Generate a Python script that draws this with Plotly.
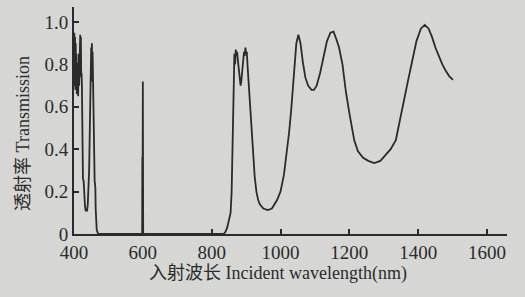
import plotly.graph_objects as go

# Wavelength (nm) and transmission
wavelength = [
    400, 401, 402, 403, 404, 405, 406, 407, 408, 409, 410, 411, 412, 413, 414, 415,
    416, 417, 418, 419, 420, 421, 422, 423, 424, 425, 426, 428, 430, 432, 434, 436,
    438, 440, 442, 443, 444, 446, 447, 448, 449, 450, 451, 452, 453, 454, 455, 456,
    457, 458, 459, 460, 462, 463, 464, 466, 468, 470,
    597, 598, 598.5, 599.5, 600, 600.5, 601,
    835, 840, 845, 850, 855, 858, 860, 862, 864, 866, 868, 870, 872, 874, 876, 878,
    880, 882, 884, 886, 888, 890, 892, 894, 896, 898, 900, 902, 904, 906, 908, 910,
    912, 915, 920, 925, 930, 935, 940, 950, 963, 975, 990, 1000, 1010, 1016, 1025,
    1031, 1036, 1041, 1046, 1052, 1058, 1065, 1072, 1080, 1090, 1097, 1105, 1115,
    1125, 1135, 1145, 1154, 1162, 1170, 1180, 1190, 1200, 1214, 1225, 1240, 1255,
    1272, 1290, 1305, 1320, 1335, 1354, 1370, 1383, 1395, 1408, 1419, 1430, 1440,
    1450, 1460, 1470, 1480, 1490, 1501,
]
transmission = [
    0.78, 0.95, 0.70, 0.93, 0.68, 0.90, 0.75, 0.85, 0.66, 0.80, 0.70, 0.78, 0.65, 0.72, 0.85, 0.70,
    0.92, 0.72, 0.94, 0.80, 0.93, 0.74, 0.76, 0.70, 0.50, 0.30, 0.26, 0.25, 0.16, 0.13, 0.11, 0.11,
    0.11, 0.14, 0.22, 0.28, 0.30, 0.50, 0.62, 0.64, 0.75, 0.88, 0.72, 0.90, 0.75, 0.86, 0.70, 0.72,
    0.55, 0.45, 0.35, 0.25, 0.22, 0.12, 0.05, 0.02, 0.01, 0.0,
    0.0, 0.0, 0.36, 0.36, 0.72, 0.30, 0.0,
    0.0, 0.01, 0.03, 0.06, 0.10, 0.20, 0.40, 0.65, 0.82, 0.85, 0.80, 0.87, 0.84, 0.86, 0.82, 0.78,
    0.74, 0.71, 0.70, 0.72, 0.76, 0.80, 0.84, 0.86, 0.84, 0.88, 0.85, 0.86, 0.80, 0.75, 0.68, 0.62,
    0.585, 0.47, 0.35, 0.27, 0.20, 0.16, 0.14, 0.12, 0.113, 0.12, 0.16, 0.20, 0.28, 0.35, 0.48,
    0.585, 0.70, 0.82, 0.90, 0.94, 0.90, 0.81, 0.74, 0.70, 0.68, 0.68, 0.70, 0.76,
    0.84, 0.91, 0.95, 0.955, 0.92, 0.88, 0.80, 0.67, 0.57, 0.443, 0.39, 0.36, 0.345,
    0.335, 0.345, 0.37, 0.40, 0.443, 0.585, 0.72, 0.82, 0.91, 0.97, 0.986, 0.97, 0.93,
    0.88, 0.84, 0.80, 0.77, 0.745, 0.727,
]

x_ticks = [400, 600, 800, 1000, 1200, 1400, 1600]
y_ticks = [0, 0.2, 0.4, 0.6, 0.8, 1.0]
y_tick_labels = ["0", "0.2", "0.4", "0.6", "0.8", "1.0"]
x_title = "入射波长 Incident wavelength(nm)"
y_title = "透射率 Transmission"

bg = "rgb(214,214,212)"
ink = "#2b2b2b"
font_fam = "Liberation Serif, Noto Sans CJK SC, serif"

fig = go.Figure()
fig.add_trace(go.Scatter(
    x=wavelength, y=transmission, mode="lines",
    line=dict(color=ink, width=1.8), showlegend=False,
))

fig.update_layout(
    width=525, height=297,
    margin=dict(l=74, r=18, t=7, b=63, autoexpand=False),
    paper_bgcolor=bg, plot_bgcolor=bg,
    font=dict(family=font_fam, color=ink, size=19),
    xaxis=dict(
        range=[400, 1658], tickvals=x_ticks, ticks="inside", ticklen=5,
        tickwidth=1.5, tickcolor=ink, showline=True, linecolor=ink, linewidth=2,
        showgrid=False, zeroline=False, automargin=False,
        tickfont=dict(family=font_fam, size=19, color=ink),
    ),
    yaxis=dict(
        range=[0, 1.071], tickvals=y_ticks, ticktext=y_tick_labels, ticks="inside",
        ticklen=5, tickwidth=1.5, tickcolor=ink, showline=True, linecolor=ink,
        linewidth=2, showgrid=False, zeroline=False, automargin=False,
        tickfont=dict(family=font_fam, size=19, color=ink),
    ),
    annotations=[
        dict(text=x_title, xref="paper", yref="paper", x=0.472, y=0, yshift=-39,
             xanchor="center", yanchor="middle", showarrow=False,
             font=dict(family=font_fam, size=18, color=ink)),
        dict(text=y_title, xref="paper", yref="paper", x=-0.118, y=0.445,
             xanchor="center", yanchor="middle", textangle=-90, showarrow=False,
             font=dict(family=font_fam, size=18, color=ink)),
    ],
)

fig.write_html(
    "out.html",
    config={"displayModeBar": False},
    post_script="document.body.style.margin='0';document.body.style.background='rgb(214,214,212)';",
)
